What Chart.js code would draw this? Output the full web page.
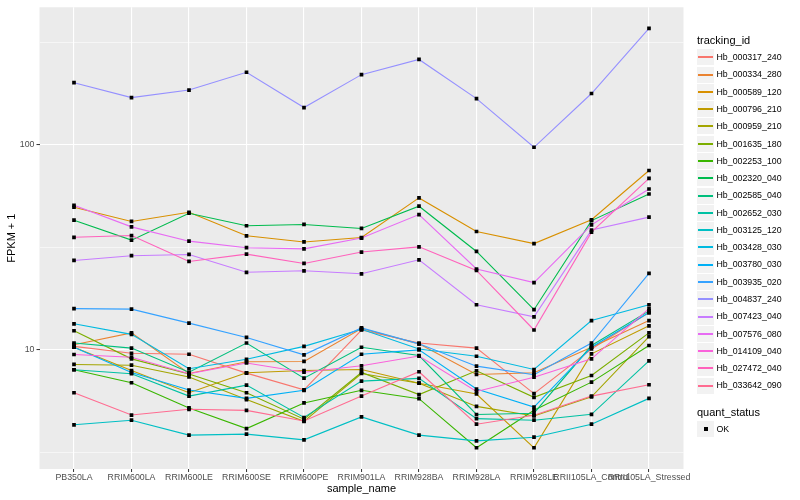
<!DOCTYPE html>
<html lang="en">
<head>
<meta charset="UTF-8">
<title>FPKM + 1 by sample</title>
<script src="https://cdn.jsdelivr.net/npm/chart.js"></script>
<style>
  body { margin: 0; background: #fff; font-family: "Liberation Sans", Arial, sans-serif; }
  #wrap { position: relative; width: 800px; height: 500px; }
  #legend { position: absolute; left: 0; top: 0; width: 800px; height: 500px; pointer-events: none; }
  .lg-title { position: absolute; font-size: 11px; line-height: 13px; color: #000; white-space: nowrap; }
  .lg-key { position: absolute; width: 17px; height: 16px; background: #F2F2F2; }
  .lg-line { position: absolute; left: 1px; top: 7px; width: 15px; height: 1.6px; }
  .lg-dot { position: absolute; left: 7px; top: 6px; width: 4px; height: 4px; background: #000; }
  .lg-text { position: absolute; font-size: 8.8px; line-height: 10px; color: #000; white-space: nowrap; }
</style>
</head>
<body>
<div id="wrap">
  <canvas id="chart" width="800" height="500"></canvas>
  <div id="legend"></div>
</div>
<script>
// samples on the x axis
const sampleNames = ['PB350LA', 'RRIM600LA', 'RRIM600LE', 'RRIM600SE', 'RRIM600PE', 'RRIM901LA',
                     'RRIM928BA', 'RRIM928LA', 'RRIM928LE', 'RRII105LA_Control', 'RRII105LA_Stressed'];

// FPKM + 1, one array per gene
const hb000317_240 = [10.4, 9.63, 9.52, 7.70, 6.38, 12.5, 10.8, 10.2, 6.12, 10.1, 15.2];
const hb000334_280 = [10.6, 12.1, 7.67, 8.75, 8.78, 12.7, 10.7, 7.59, 7.73, 10.3, 13.9];
const hb000589_120 = [49.6, 42.3, 46.9, 36.0, 33.6, 35.3, 55.1, 37.8, 33.0, 43.1, 75.0];
const hb000796_210 = [10.3, 7.93, 6.18, 7.73, 7.93, 8.02, 6.88, 6.09, 3.33, 9.56, 13.1];
const hb000959_210 = [8.49, 8.42, 7.38, 5.72, 4.48, 7.67, 6.88, 5.30, 4.76, 5.90, 11.6];
const hb001635_180 = [12.4, 9.04, 7.63, 6.18, 4.59, 7.76, 6.05, 7.91, 5.87, 7.50, 12.1];
const hb002253_100 = [8.00, 6.91, 5.21, 4.13, 5.51, 6.35, 5.78, 3.33, 5.07, 6.96, 10.5];
const hb002320_040 = [42.9, 34.3, 46.4, 40.3, 40.9, 39.1, 50.2, 30.2, 15.7, 42.7, 57.6];
const hb002585_040 = [10.8, 10.2, 7.78, 10.8, 7.28, 10.3, 9.38, 4.84, 4.91, 10.5, 15.5];
const hb002652_030 = [8.00, 7.65, 5.95, 6.73, 4.68, 7.04, 7.26, 4.62, 4.54, 4.85, 8.84];
const hb003125_120 = [4.31, 4.54, 3.84, 3.88, 3.64, 4.71, 3.84, 3.60, 3.75, 4.34, 5.80];
const hb003428_030 = [13.4, 11.9, 8.09, 9.00, 10.4, 12.6, 10.1, 9.31, 8.02, 13.9, 16.6];
const hb003780_030 = [10.3, 7.76, 6.37, 5.80, 6.35, 9.52, 10.0, 6.44, 5.26, 10.3, 15.2];
const hb003935_020 = [15.9, 15.8, 13.5, 11.5, 9.46, 12.8, 10.7, 8.33, 7.56, 10.8, 23.6];
const hb004837_240 = [201, 170, 185, 226, 152, 220, 261, 168, 97.3, 178, 370];
const hb007423_040 = [27.3, 28.8, 29.2, 23.9, 24.3, 23.5, 27.5, 16.6, 14.5, 38.4, 44.4];
const hb007576_080 = [50.7, 39.8, 33.9, 31.5, 31.1, 35.1, 45.7, 24.8, 21.3, 40.7, 60.9];
const hb014109_040 = [9.49, 9.21, 7.65, 8.63, 7.78, 8.36, 9.33, 6.27, 7.36, 9.04, 15.9];
const hb027472_040 = [35.4, 36.1, 27.0, 29.3, 26.4, 30.0, 31.8, 24.4, 12.5, 37.5, 68.6];
const hb033642_090 = [6.18, 4.81, 5.13, 5.07, 4.50, 5.95, 7.82, 4.34, 4.80, 5.95, 6.76];

const trackingIds = ['Hb_000317_240', 'Hb_000334_280', 'Hb_000589_120', 'Hb_000796_210', 'Hb_000959_210',
                     'Hb_001635_180', 'Hb_002253_100', 'Hb_002320_040', 'Hb_002585_040', 'Hb_002652_030',
                     'Hb_003125_120', 'Hb_003428_030', 'Hb_003780_030', 'Hb_003935_020', 'Hb_004837_240',
                     'Hb_007423_040', 'Hb_007576_080', 'Hb_014109_040', 'Hb_027472_040', 'Hb_033642_090'];
const seriesValues = [hb000317_240, hb000334_280, hb000589_120, hb000796_210, hb000959_210,
                      hb001635_180, hb002253_100, hb002320_040, hb002585_040, hb002652_030,
                      hb003125_120, hb003428_030, hb003780_030, hb003935_020, hb004837_240,
                      hb007423_040, hb007576_080, hb014109_040, hb027472_040, hb033642_090];

// y axis breaks (log10 scale)
const yMajorTicks = [10, 100];
const yMinorTicks = [3.1623, 31.623, 316.23];

// ggplot default hue palette for 20 levels
const palette = ['#F8766D', '#EA8331', '#D89000', '#C09B00', '#A3A500', '#7CAE00', '#39B600', '#00BB4E',
                 '#00BF7D', '#00C1A3', '#00BFC4', '#00BAE0', '#00B0F6', '#35A2FF', '#9590FF', '#C77CFF',
                 '#E76BF3', '#FA62DB', '#FF62BC', '#FF6C91'];

const FONT = '"Liberation Sans", Arial, sans-serif';
const isMajor = v => yMajorTicks.some(t => Math.abs(t - v) < 1e-6);

const lineSets = seriesValues.map((vals, i) => ({
    label: trackingIds[i],
    data: vals.map((v, j) => ({ x: j, y: v })),
    borderColor: palette[i],
    borderWidth: 1.1,
    pointRadius: 0,
    fill: false,
    tension: 0,
    order: 100 - i
}));
// points go on top of every line, like geom_point after geom_line
const pointSets = seriesValues.map((vals, i) => ({
    label: trackingIds[i] + ' OK',
    data: vals.map((v, j) => ({ x: j, y: v })),
    showLine: false,
    pointStyle: 'rect',
    pointRadius: 2.6,
    pointBackgroundColor: '#000',
    pointBorderWidth: 0,
    order: 0
}));

const panelBg = {
    id: 'panelBg',
    beforeDraw(chart) {
        const a = chart.chartArea, ctx = chart.ctx;
        ctx.save();
        ctx.fillStyle = '#EBEBEB';
        ctx.fillRect(a.left, a.top, a.right - a.left, a.bottom - a.top);
        ctx.restore();
    }
};

new Chart(document.getElementById('chart'), {
    type: 'line',
    data: { datasets: lineSets.concat(pointSets) },
    plugins: [panelBg],
    options: {
        responsive: false,
        animation: false,
        layout: { padding: { left: 0, right: 116.5, top: 5, bottom: 0 } },
        plugins: { legend: { display: false }, tooltip: { enabled: false } },
        scales: {
            x: {
                type: 'linear',
                min: -0.6,
                max: sampleNames.length - 0.4,
                afterBuildTicks: s => { s.ticks = sampleNames.map((n, i) => ({ value: i })); },
                afterFit: s => { s.height = 31; },
                border: { display: false },
                grid: { color: '#FFFFFF', lineWidth: 1.1, tickColor: '#333333', tickLength: 3, tickWidth: 1 },
                ticks: {
                    autoSkip: false, maxRotation: 0, minRotation: 0, padding: 0.5,
                    color: '#4D4D4D', font: { family: FONT, size: 8.8 },
                    callback: v => sampleNames[Math.round(v)]
                },
                title: { display: true, text: 'sample_name', color: '#000', font: { family: FONT, size: 11 },
                         padding: { top: 0, bottom: 4.4 } }
            },
            y: {
                type: 'logarithmic',
                min: 2.624,
                max: 468.8,
                afterBuildTicks: s => {
                    s.ticks = yMinorTicks.concat(yMajorTicks).sort((a, b) => a - b).map(v => ({ value: v, major: isMajor(v) }));
                },
                afterFit: s => { s.width = 39.5; },
                border: { display: false },
                grid: {
                    color: '#FFFFFF',
                    lineWidth: c => isMajor(c.tick.value) ? 1.1 : 0.55,
                    tickColor: c => isMajor(c.tick.value) ? '#333333' : 'rgba(0,0,0,0)',
                    tickLength: 3, tickWidth: 1
                },
                ticks: {
                    padding: 2, color: '#4D4D4D', font: { family: FONT, size: 8.8 },
                    callback: v => isMajor(v) ? String(Math.round(v)) : ''
                },
                title: { display: true, text: 'FPKM + 1', color: '#000', font: { family: FONT, size: 11 },
                         padding: { top: 5.4, bottom: 0 } }
            }
        }
    }
});

// legend, ggplot style, on the right
const legend = document.getElementById('legend');
function add(cls, left, top, text) {
    const d = document.createElement('div');
    d.className = cls;
    d.style.left = left + 'px';
    d.style.top = top + 'px';
    if (text) d.textContent = text;
    legend.appendChild(d);
    return d;
}
add('lg-title', 697, 34, 'tracking_id');
trackingIds.forEach((id, i) => {
    const cy = 57.3 + i * 17.28;
    const key = add('lg-key', 697, Math.round(cy - 8));
    const ln = document.createElement('div');
    ln.className = 'lg-line';
    ln.style.background = palette[i];
    key.appendChild(ln);
    add('lg-text', 716.5, cy - 5.2, id);
});
add('lg-title', 697, 405.8, 'quant_status');
const okKey = add('lg-key', 697, Math.round(429.3 - 8));
const dot = document.createElement('div');
dot.className = 'lg-dot';
okKey.appendChild(dot);
add('lg-text', 716.5, 429.3 - 5.2, 'OK');
</script>
</body>
</html>
